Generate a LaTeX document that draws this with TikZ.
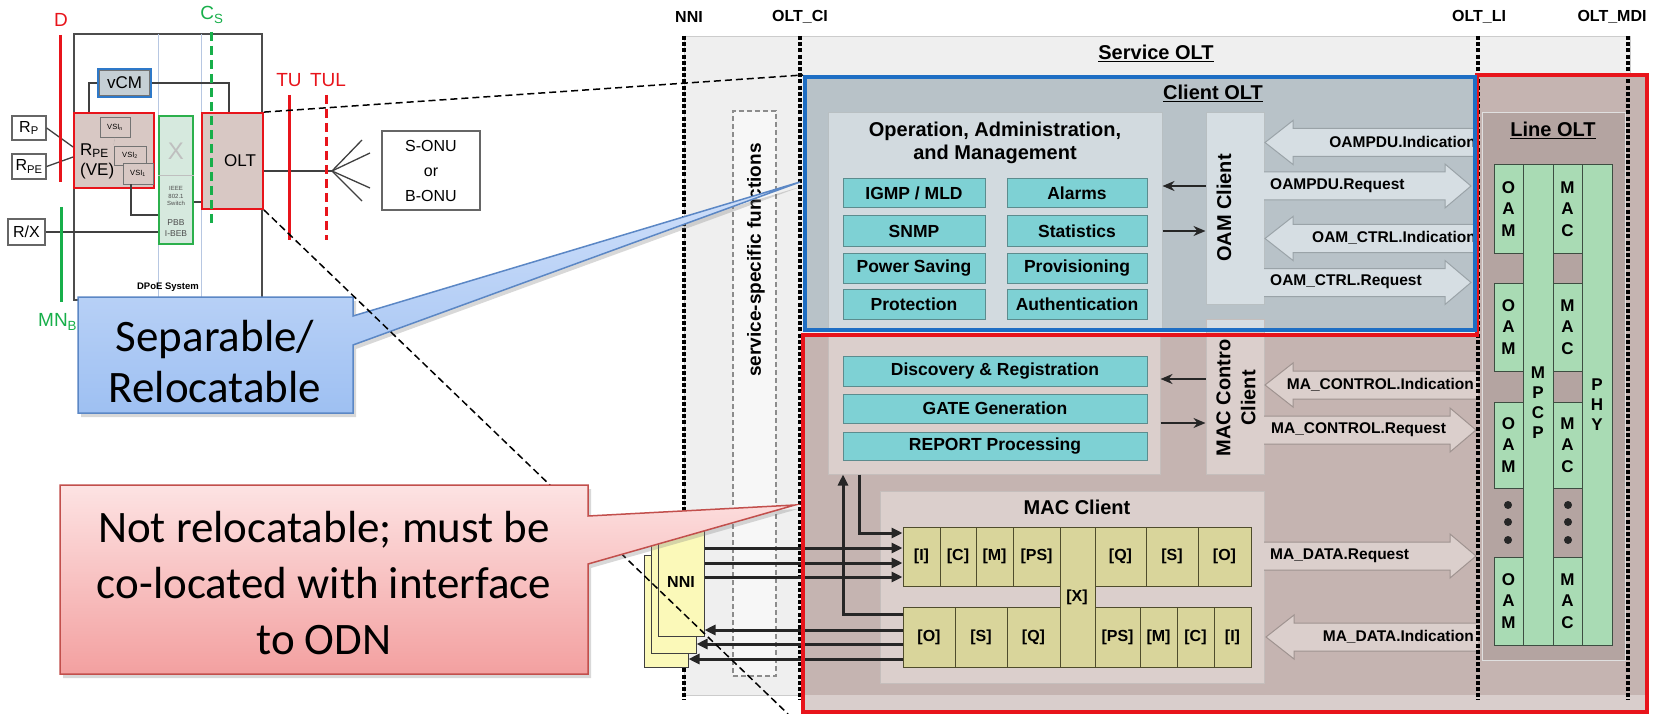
\documentclass[tikz,border=0pt]{standalone}
\usepackage{fontspec}
\setmainfont{Liberation Sans}
\newfontfamily\calloutfont{Carlito}
\usetikzlibrary{positioning, arrows.meta, fit, calc, shadows}
\definecolor{svcgray}{HTML}{EFEFEF}
\definecolor{clientfill}{HTML}{B8C2C8}
\definecolor{clientbox}{HTML}{D2DADF}
\definecolor{clientcl}{HTML}{D6DEE3}
\definecolor{clientedge}{HTML}{9AA3A8}
\definecolor{lineregion}{HTML}{C5B4B1}
\definecolor{linebox}{HTML}{B4A4A1}
\definecolor{macbox}{HTML}{DBCFCC}
\definecolor{macedge}{HTML}{9F9390}
\definecolor{tealfill}{HTML}{7ED1D4}
\definecolor{tealline}{HTML}{5C8C8E}
\definecolor{ylwfill}{HTML}{D9D59B}
\definecolor{ylwline}{HTML}{4F4C2C}
\definecolor{nnifill}{HTML}{FBF9B9}
\definecolor{greenfill}{HTML}{A9DBB4}
\definecolor{greenline}{HTML}{3D4D41}
\definecolor{frameblue}{HTML}{1E6EC4}
\definecolor{framered}{HTML}{E8141B}
\definecolor{brownfill}{HTML}{D8C8C4}
\definecolor{vcmblue}{HTML}{2E79C9}
\definecolor{vcmfill}{HTML}{C5CFD5}
\definecolor{pbbgreen}{HTML}{2CB04C}
\definecolor{pbbfill}{HTML}{D6E9DE}
\definecolor{csgreen}{HTML}{17AF4A}
\definecolor{callblue}{HTML}{5B87C5}
\definecolor{calltop}{HTML}{D0E0FA}
\definecolor{callbot}{HTML}{9EC0F2}
\definecolor{callred}{HTML}{C24F4C}
\definecolor{calltopr}{HTML}{FDE3E3}
\definecolor{callbotr}{HTML}{F3A0A0}
\definecolor{faint}{HTML}{B7C7E2}

% block arrows: style, start x, tip x, centre y  /  style, tip x, end x, centre y
\newcommand\rblock[4]{%
  \draw[blockarrow,#1] (#2,#4-14) -- (#3-26,#4-14) -- (#3-26,#4-22) -- (#3,#4)
    -- (#3-26,#4+22) -- (#3-26,#4+14) -- (#2,#4+14);}
\newcommand\lblock[4]{%
  \draw[blockarrow,#1] (#3,#4-14) -- (#2+28,#4-14) -- (#2+28,#4-22) -- (#2,#4)
    -- (#2+28,#4+22) -- (#2+28,#4+14) -- (#3,#4+14);}

\begin{document}
\begin{tikzpicture}[x=1pt, y=-1pt,
		lbl/.style={inner sep=0pt, font=\fontsize{17}{20}\selectfont},
		sbox/.style={draw=black!60, line width=1.3pt, fill=white, inner sep=0pt},
		redbox/.style={draw=framered, line width=1.8pt, fill=brownfill, inner sep=0pt},
		vsibox/.style={draw=black!55, line width=0.9pt, fill=brownfill, inner sep=0pt},
		vsitxt/.style={inner sep=0pt, font=\fontsize{7.5}{9}\selectfont},
		wire/.style={black!75, line width=1.3pt},
		redmark/.style={framered, line width=3pt},
		greenmark/.style={csgreen, line width=3pt},
		ifline/.style={line width=3.4pt, dash pattern=on 4pt off 2.2pt},
		iflbl/.style={inner sep=0pt, font=\bfseries\fontsize{16}{18}\selectfont},
		title/.style={inner sep=0pt, font=\bfseries\fontsize{20}{23}\selectfont},
		tealbox/.style={draw=tealline, line width=1pt, fill=tealfill, inner sep=0pt},
		tealtxt/.style={inner sep=0pt, font=\bfseries\fontsize{17.5}{20}\selectfont},
		ycell/.style={draw=ylwline, line width=1pt, fill=ylwfill, inner sep=0pt},
		ytxt/.style={inner sep=0pt, font=\bfseries\fontsize{16}{19}\selectfont},
		gcol/.style={draw=greenline, line width=1pt, fill=greenfill, inner sep=0pt},
		stack/.style={inner sep=0pt, align=center, font=\bfseries\fontsize{17}{21.5}\selectfont},
		flowlbl/.style={inner sep=0pt, font=\bfseries\fontsize{15.5}{18}\selectfont},
		blockarrow/.style={line width=1pt},
		arrow/.style={-{Stealth[length=12pt,width=10pt]}, line width=2.2pt, black!85},
		nniarrow/.style={-{Triangle[length=11pt,width=10pt]}, line width=3pt, black!85},
		projline/.style={black, line width=1.5pt, dash pattern=on 7pt off 4pt},
		callouttxt/.style={inner sep=0pt, align=center, font=\calloutfont\fontsize{45}{51}\selectfont},
		]
		\useasboundingbox (0,0) rectangle (1662,714);
		\fill[white] (0,0) rectangle (1662,714);
		
		% DPoE System (left)
		\node[draw=black!70, line width=1.6pt, fit={(74,34) (262,300)}, inner sep=0pt] (dpoe) {};
		\draw[faint, line width=0.8pt] (158,34) -- (158,300);
		\draw[faint, line width=0.8pt] (201,34) -- (201,300);
		\node[inner sep=0pt, font=\bfseries\fontsize{9.5}{11}\selectfont] (dpoename) at (168,287) {DPoE System};
		
		\node[draw=vcmblue, line width=1.8pt, fill=vcmfill, fit={(98,69) (151,97)}, inner sep=0pt] (vcm) {};
		\draw[black!55, line width=0.8pt] ([shift={(2.5pt,2.5pt)}]vcm.south west) rectangle ([shift={(-2.5pt,-2.5pt)}]vcm.north east);
		\node[lbl] (vcmtxt) at (vcm) {vCM};
		
		\node[redbox, fit={(74,113) (154,188)}] (rpe) {};
		\node[lbl, align=left, anchor=west] (rpetxt) at (80,161) {R\textsubscript{PE}\\(VE)};
		\node[vsibox, fit={(100,117) (130,137)}] (vsin) {};
		\node[vsitxt] at (vsin) {VSI\textsubscript{n}};
		\node[vsibox, fit={(114,146) (146,165)}] (vsi2) {};
		\node[vsitxt] at (vsi2) {VSI\textsubscript{2}};
		\node[vsibox, fit={(123,163) (153,184)}] (vsi1) {};
		\node[vsitxt] at (vsi1) {VSI\textsubscript{1}};
		\draw[black!45, densely dotted] (vsin.south) -- (vsi2.north west);
		
		\node[draw=pbbgreen, line width=1.8pt, fill=pbbfill, fit={(159,116) (193,244)}, inner sep=0pt] (pbb) {};
		\draw[black!25] (pbb.west |- 0,175) -- (pbb.east |- 0,175);
		\node[inner sep=0pt, text=black!25, font=\fontsize{24}{24}\selectfont] (pbbx) at (176,151) {X};
		\node[inner sep=0pt, text=black!70, align=center, font=\fontsize{6}{7.5}\selectfont] (pbbsw) at (176,196) {IEEE\\802.1\\Switch};
		\node[inner sep=0pt, text=black!70, align=center, font=\fontsize{8.5}{11}\selectfont] (pbbname) at (176,228) {PBB\\I-BEB};
		
		\node[redbox, fit={(202,113) (263,209)}] (oltl) {};
		\node[lbl] (oltltxt) at (240,161) {OLT};
		
		\node[sbox, fit={(12,116) (46,140)}] (rp) {};
		\node[lbl, font=\fontsize{16}{19}\selectfont] at (rp) {R\textsubscript{P}};
		\node[sbox, fit={(12,154) (46,179)}] (rpeb) {};
		\node[lbl, font=\fontsize{16}{19}\selectfont] at (rpeb) {R\textsubscript{PE}};
		\node[sbox, fit={(8,219) (45,245)}] (rx) {};
		\node[lbl, font=\fontsize{16}{19}\selectfont] at (rx) {R/X};
		\node[sbox, fit={(382,131) (480,210)}] (onu) {};
		\node[lbl, align=center, font=\fontsize{16}{25}\selectfont] at (onu) {S-ONU\\or\\B-ONU};
		
		\draw[wire] (vcm.west) -| (rpe.north -| 89,0);
		\draw[wire] (vcm.east) -| (oltl.north -| 229,0);
		\draw[wire] (vsi1.south -| 131,0) |- (pbb.west |- 0,215);
		\draw[wire] (oltl.west |- 0,202) -- (pbb.east |- 0,202);
		\draw[wire] (rx.east) -- (pbb.west |- rx.east);
		\draw[wire] (rp.east) -- (rpe.west |- 0,147);
		\draw[wire] (rpeb.east) -- (rpe.west |- 0,157);
		\coordinate (fan) at (332,171);
		\draw[wire] (oltl.east |- fan) -- (fan);
		\foreach \dx/\dy in {30/-31, 38/-18, 38/17, 30/30}
		\draw[wire] (fan) -- ++(\dx,\dy);
		
		% reference points
		\draw[redmark] (60,35) -- (60,182);
		\node[lbl, text=framered, font=\fontsize{19}{22}\selectfont] (dlbl) at (61,20) {D};
		\draw[redmark] (289,95) -- (289,240);
		\node[lbl, text=framered, font=\fontsize{19}{22}\selectfont] (tulbl) at (289,80) {TU};
		\draw[redmark, dash pattern=on 9pt off 5pt] (326,95) -- (326,240);
		\node[lbl, text=framered, font=\fontsize{19}{22}\selectfont] (tullbl) at (328,80) {TUL};
		\draw[greenmark, dash pattern=on 9pt off 5pt] (211,32) -- (211,227);
		\node[lbl, text=csgreen, font=\fontsize{19}{22}\selectfont] (cslbl) at (212,15) {C\textsubscript{S}};
		\draw[greenmark] (61,207) -- (61,302);
		\node[lbl, text=csgreen, anchor=west, font=\fontsize{19}{22}\selectfont] (mnlbl) at (38,322) {MN\textsubscript{B}};
		
		% Service OLT
		\node[fill=svcgray, draw=black!20, line width=1pt, fit={(684,37) (1630,695)}, inner sep=0pt] (svc) {};
		\node[title] (svctitle) at (1156,53) {\underline{Service OLT}};
		\node[draw=black!45, dash pattern=on 5pt off 3pt, line width=1.1pt, fill=black!3, fit={(733,111) (776,676)}, inner sep=0pt] (ssf) {};
		\node[rotate=90, inner sep=0pt, font=\bfseries\fontsize{19}{22}\selectfont] (ssftxt) at (756,260) {service-specific functions};
		
		% Client OLT and Line OLT regions
		\fill[clientfill] (805,75) rectangle (1475,332);
		\fill[lineregion] (803,333) -- (1477,333) -- (1477,75) -- (1647,75) -- (1647,712) -- (803,712) -- cycle;
		\fill[lineregion!65!white] (803,695) rectangle (1647,712);
		
		% Line OLT
		\node[fill=linebox, draw=black!12, line width=1pt, fit={(1482,113) (1625,660)}, inner sep=0pt] (lineolt) {};
		\node[title] (linetitle) at (1553,130) {\underline{Line OLT}};
		\node[gcol, fit={(1523,165) (1553,645)}] (mpcp) {};
		\node[gcol, fit={(1582,165) (1612,645)}] (phy) {};
		\node[stack, font=\bfseries\fontsize{17}{20}\selectfont] (mpcptxt) at (1538,403) {M\\P\\C\\P};
		\node[stack, font=\bfseries\fontsize{17}{20}\selectfont] (phytxt) at (1597,405) {P\\H\\Y};
		\foreach \ya/\yb [count=\i] in {165/253, 283/371, 402/488, 557/645} {
			\node[gcol, fit={(1494,\ya) (1523,\yb)}] (oam\i) {};
			\node[stack] at (oam\i) {O\\A\\M};
			\node[gcol, fit={(1553,\ya) (1582,\yb)}] (mac\i) {};
			\node[stack] at (mac\i) {M\\A\\C};
		}
		\foreach \yy in {505, 522, 540} {
			\fill[black!85] (1508,\yy) circle (4pt);
			\fill[black!85] (1568,\yy) circle (4pt);
		}
		
		% OAM
		\node[fill=clientbox, draw=clientedge!70, line width=1pt, fit={(828,113) (1162,330)}, inner sep=0pt] (oambox) {};
		\node[title, align=center] (oamtitle) at (995,143) {Operation, Administration,\\and Management};
		\foreach \ya/\yb/\ta/\tb [count=\i] in {179/208/{IGMP / MLD}/Alarms, 216/246/SNMP/Statistics,
			253/283/{Power Saving}/Provisioning, 289/319/Protection/Authentication} {
			\node[tealbox, fit={(843,\ya) (985,\yb)}] (oamfa\i) {};
			\node[tealtxt] at (oamfa\i) {\ta};
			\node[tealbox, fit={(1007,\ya) (1147,\yb)}] (oamfb\i) {};
			\node[tealtxt] at (oamfb\i) {\tb};
		}
		\node[fill=clientcl, draw=clientedge!70, line width=1pt, fit={(1206,113) (1264,304)}, inner sep=0pt] (oamcl) {};
		\node[title, rotate=90] (oamcltxt) at (1224,208) {OAM Client};
		\draw[arrow] (oamcl.west |- 0,186) -- (oambox.east |- 0,186);
		\draw[arrow] (oambox.east |- 0,231) -- (oamcl.west |- 0,231);
		
		% MPCP functions
		\node[fill=macbox, draw=macedge!60, line width=1pt, fit={(828,335) (1160,474)}, inner sep=0pt] (ctrlbox) {};
		\node[tealbox, fit={(843,356) (1147,386)}] (discovery) {};
		\node[tealtxt] at (discovery) {Discovery \& Registration};
		\node[tealbox, fit={(843,394) (1147,423)}] (gate) {};
		\node[tealtxt] at (gate) {GATE Generation};
		\node[tealbox, fit={(843,432) (1147,460)}] (report) {};
		\node[tealtxt] at (report) {REPORT Processing};
		\node[fill=macbox, draw=macedge!60, line width=1pt, fit={(1206,319) (1264,474)}, inner sep=0pt] (ctrlcl) {};
		\fill[clientcl] (1206.5,319.5) rectangle (1263.5,331);
		\node[title, rotate=90, align=center, font=\bfseries\fontsize{20}{25}\selectfont] (ctrlcltxt) at (1236,398) {MAC Contro\\Client};
		\draw[arrow] (ctrlcl.west |- 0,379) -- (ctrlbox.east |- 0,379);
		\draw[arrow] (ctrlbox.east |- 0,423) -- (ctrlcl.west |- 0,423);
		
		% MAC Client
		\node[fill=macbox, draw=macedge!60, line width=1pt, fit={(880,491) (1264,683)}, inner sep=0pt] (maccl) {};
		\node[title] (maccltxt) at (1077,507) {MAC Client};
		\foreach \xa/\xb/\t [count=\i] in {903/940/{[I]}, 940/976/{[C]}, 976/1013/{[M]}, 1013/1060/{[PS]},
			1095/1146/{[Q]}, 1146/1198/{[S]}, 1198/1251/{[O]}} {
			\node[ycell, fit={(\xa,527) (\xb,586)}] (up\i) {};
			\node[ytxt] at (up\i) {\t};
		}
		\foreach \xa/\xb/\t [count=\i] in {903/955/{[O]}, 955/1007/{[S]}, 1007/1060/{[Q]},
			1095/1140/{[PS]}, 1140/1177/{[M]}, 1177/1214/{[C]}, 1214/1251/{[I]}} {
			\node[ycell, fit={(\xa,607) (\xb,667)}] (dn\i) {};
			\node[ytxt] at (dn\i) {\t};
		}
		\node[ycell, fit={(1060,527) (1095,667)}] (xcell) {};
		\node[ytxt] (xcelltxt) at (1077,597) {[X]};
		
		% primitives
		\lblock{fill=clientcl, draw=clientedge}{1265}{1475}{142.5}
		\rblock{fill=clientcl, draw=clientedge}{1264}{1471}{186}
		\lblock{fill=clientcl, draw=clientedge}{1265}{1475}{238.5}
		\rblock{fill=clientcl, draw=clientedge}{1264}{1471}{282.5}
		\lblock{fill=macbox, draw=macedge}{1265}{1478}{385}
		\rblock{fill=macbox, draw=macedge}{1264}{1476}{430}
		\rblock{fill=macbox, draw=macedge}{1264}{1476}{556}
		\lblock{fill=macbox, draw=macedge}{1266}{1478}{637}
		\node[flowlbl, anchor=east] (oampduind) at (1476,142) {OAMPDU.Indication};
		\node[flowlbl, anchor=west] (oampdureq) at (1270,186) {OAMPDU.Request};
		\node[flowlbl, anchor=east] (oamctrlind) at (1476,238) {OAM\_CTRL.Indication};
		\node[flowlbl, anchor=west] (oamctrlreq) at (1270,282) {OAM\_CTRL.Request};
		\node[flowlbl, anchor=east] (mactrlind) at (1474,385) {MA\_CONTROL.Indication};
		\node[flowlbl, anchor=west] (mactrlreq) at (1271,430) {MA\_CONTROL.Request};
		\node[flowlbl, anchor=west] (madatareq) at (1270,556) {MA\_DATA.Request};
		\node[flowlbl, anchor=east] (madataind) at (1474,637) {MA\_DATA.Indication};
		
		% interfaces
		\foreach \xx in {684, 800, 1478, 1628}
		\draw[ifline] (\xx,36) -- (\xx,700);
		\node[iflbl] (nnilbl) at (689,17) {NNI};
		\node[iflbl] (ocilbl) at (800,17) {OLT\_CI};
		\node[iflbl] (olilbl) at (1479,17) {OLT\_LI};
		\node[iflbl] (omdilbl) at (1612,17) {OLT\_MDI};
		
		% NNI stack
		\node[draw=black!75, line width=1pt, fill=nnifill, fit={(644,555) (688,667)}, inner sep=0pt] (nni3) {};
		\node[draw=black!75, line width=1pt, fill=nnifill, fit={(651,540) (696,653)}, inner sep=0pt] (nni2) {};
		\node[draw=black!75, line width=1pt, fill=nnifill, fit={(658,525) (704,636)}, inner sep=0pt] (nni1) {};
		\node[ytxt] (nnitxt) at (681,582) {NNI};
		\foreach \yy in {548, 563, 577}
		\draw[nniarrow] (nni1.east |- 0,\yy) -- (up1.west |- 0,\yy);
		\draw[nniarrow] (dn1.west |- 0,630) -- (nni1.east |- 0,630);
		\draw[nniarrow] (dn1.west |- 0,644) -- (nni2.east |- 0,644);
		\draw[nniarrow] (dn1.west |- 0,659) -- (nni3.east |- 0,659);
		\draw[nniarrow] (859,0 |- ctrlbox.south) |- (up1.west |- 0,533);
		\draw[nniarrow] (dn1.west |- 0,614) -| (ctrlbox.south -| 843,0);
		
		% frames
		\draw[framered, line width=4pt] (803,335) -- (1477,335) -- (1477,75) -- (1647,75) -- (1647,712) -- (803,712) -- cycle;
		\node[draw=frameblue, line width=4pt, fit={(805,77) (1475,330)}, inner sep=0pt] (clientfr) {};
		\node[title] (clienttitle) at (1213,93) {\underline{Client OLT}};
		
		% notes
		\draw[callblue, line width=1.5pt, top color=calltop, bottom color=callbot,
		drop shadow={opacity=0.3, shadow xshift=3pt, shadow yshift=-4pt}]
		(78,297) -- (353,297) -- (353,316) -- (800,182) -- (353,345) -- (353,413) -- (78,413) -- cycle;
		\node[callouttxt] (sepnote) at (215,362) {Separable/\\Relocatable};
		
		\coordinate (projend) at (788,714);
		\draw[projline] (oltl.north east) -- (clientfr.north west);
		\draw[projline] (oltl.south east) -- (projend);
		
		\draw[callred, line width=1.5pt, top color=calltopr, bottom color=callbotr,
		drop shadow={opacity=0.3, shadow xshift=3pt, shadow yshift=-4pt}]
		(60,485) -- (588,485) -- (588,516) -- (795,505) -- (588,564) -- (588,674) -- (60,674) -- cycle;
		\node[callouttxt, font=\calloutfont\fontsize{45}{56}\selectfont] (odnnote) at (324,583) {Not relocatable; must be\\co-located with interface\\to ODN};
	\end{tikzpicture}
\end{document}
